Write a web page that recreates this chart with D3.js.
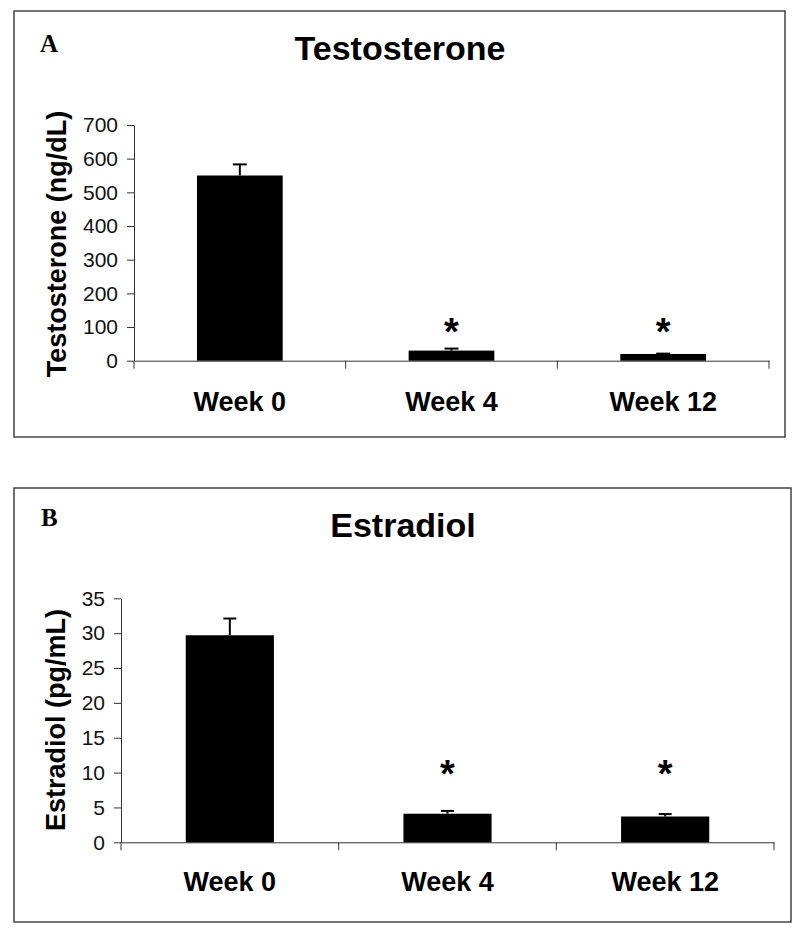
<!DOCTYPE html>
<html>
<head>
<meta charset="utf-8">
<script src="https://cdn.jsdelivr.net/npm/d3@7"></script>
<style>
  body { margin: 0; background: #fff; }
  svg { display: block; }
  text { font-family: "Liberation Sans", Arial, sans-serif; }
</style>
</head>
<body>
<svg id="chart" width="800" height="933"></svg>
<script>
// ---- data ----
const categories = ["Week 0", "Week 4", "Week 12"];

const testosteroneMeans = [550, 30, 20];
const testosteroneErrors = [33, 6, 1];
const testosteroneTicks = [0, 100, 200, 300, 400, 500, 600, 700];
const testosteroneSignificant = [false, true, true];
const testosteroneStarLevel = 110;

const estradiolMeans = [29.7, 4.1, 3.7];
const estradiolErrors = [2.4, 0.4, 0.35];
const estradiolTicks = [0, 5, 10, 15, 20, 25, 30, 35];
const estradiolSignificant = [false, true, true];
const estradiolStarLevel = 11;

// ---- drawing ----
const svg = d3.select("#chart");

function drawPanel(cfg) {
  const g = svg.append("g");
  // frame
  g.append("rect")
    .attr("x", cfg.frame[0]).attr("y", cfg.frame[1])
    .attr("width", cfg.frame[2]).attr("height", cfg.frame[3])
    .attr("fill", "none").attr("stroke", "#444").attr("stroke-width", 1.5);

  // panel letter
  g.append("text")
    .attr("x", cfg.letterPos[0]).attr("y", cfg.letterPos[1])
    .style("font-family", "'Liberation Serif', 'Times New Roman', serif")
    .style("font-weight", "bold").style("font-size", "25px")
    .text(cfg.letter);

  // title
  g.append("text")
    .attr("x", cfg.titlePos[0]).attr("y", cfg.titlePos[1])
    .attr("text-anchor", "middle")
    .style("font-weight", "bold").style("font-size", "34px")
    .text(cfg.title);

  const x = d3.scaleBand().domain(categories).range([cfg.x0, cfg.x1]).padding(0);
  const y = d3.scaleLinear().domain([0, d3.max(cfg.ticks)]).range([cfg.yBottom, cfg.yTop]);
  const barW = x.bandwidth() * 0.405;

  // y axis
  const yAxis = g.append("g")
    .attr("transform", `translate(${cfg.x0},0)`)
    .call(d3.axisLeft(y).tickValues(cfg.ticks).tickSize(7).tickPadding(9).tickSizeOuter(0));
  yAxis.selectAll("text").style("font-size", "21px").attr("fill", "#111")
    .style("font-family", "'Liberation Sans', Arial, sans-serif");
  yAxis.selectAll("line").attr("stroke", "#333");
  yAxis.select(".domain").attr("stroke", "#333");

  // x axis
  const xAxis = g.append("g")
    .attr("transform", `translate(0,${cfg.yBottom})`)
    .call(d3.axisBottom(x).tickSize(0).tickPadding(0).tickSizeOuter(0));
  xAxis.select(".domain").attr("stroke", "#333");
  xAxis.selectAll("text")
    .attr("dy", null).attr("y", cfg.xLabelOffset)
    .style("font-size", "27px").style("font-weight", "bold").attr("fill", "#000")
    .style("font-family", "'Liberation Sans', Arial, sans-serif");
  // boundary ticks (Excel style, between categories)
  const bounds = categories.map(c => x(c)).concat([x(categories[categories.length - 1]) + x.bandwidth()]);
  g.selectAll(".xtick").data(bounds).enter().append("line")
    .attr("x1", d => d).attr("x2", d => d)
    .attr("y1", cfg.yBottom).attr("y2", cfg.yBottom + 8)
    .attr("stroke", "#333").attr("stroke-width", 1);

  const data = categories.map((c, i) => ({ c, v: cfg.means[i], e: cfg.errors[i], s: cfg.sig[i] }));

  // error bars (upper only)
  const eb = g.selectAll(".eb").data(data).enter().append("g");
  eb.append("line")
    .attr("x1", d => x(d.c) + x.bandwidth() / 2).attr("x2", d => x(d.c) + x.bandwidth() / 2)
    .attr("y1", d => y(d.v)).attr("y2", d => y(d.v + d.e))
    .attr("stroke", "#000").attr("stroke-width", 2);
  eb.append("line")
    .attr("x1", d => x(d.c) + x.bandwidth() / 2 - cfg.capHalf)
    .attr("x2", d => x(d.c) + x.bandwidth() / 2 + cfg.capHalf)
    .attr("y1", d => y(d.v + d.e)).attr("y2", d => y(d.v + d.e))
    .attr("stroke", "#000").attr("stroke-width", 2);

  // bars
  g.selectAll(".bar").data(data).enter().append("rect")
    .attr("x", d => x(d.c) + (x.bandwidth() - barW) / 2)
    .attr("y", d => y(d.v))
    .attr("width", barW)
    .attr("height", d => y(0) - y(d.v))
    .attr("fill", "#000");

  // significance stars
  g.selectAll(".star").data(data.filter(d => d.s)).enter().append("text")
    .attr("x", d => x(d.c) + x.bandwidth() / 2)
    .attr("y", y(cfg.starLevel) + 21)
    .attr("text-anchor", "middle")
    .style("font-weight", "bold").style("font-size", "38px")
    .text("*");

  // y label
  g.append("text")
    .attr("transform", `translate(${cfg.yLabelPos[0]},${cfg.yLabelPos[1]}) rotate(-90)`)
    .attr("text-anchor", "middle")
    .style("font-weight", "bold").style("font-size", "27px")
    .text(cfg.yLabel);
}

drawPanel({
  frame: [14, 11, 771, 426],
  letter: "A", letterPos: [40, 52],
  title: "Testosterone", titlePos: [400, 60],
  x0: 134, x1: 769, yTop: 125, yBottom: 360.7,
  ticks: testosteroneTicks,
  means: testosteroneMeans, errors: testosteroneErrors, sig: testosteroneSignificant,
  starLevel: testosteroneStarLevel,
  capHalf: 7,
  xLabelOffset: 50,
  yLabel: "Testosterone (ng/dL)", yLabelPos: [66, 244]
});

drawPanel({
  frame: [14, 488, 777, 434],
  letter: "B", letterPos: [41, 526],
  title: "Estradiol", titlePos: [403, 536.5],
  x0: 121, x1: 774, yTop: 598.3, yBottom: 842.3,
  ticks: estradiolTicks,
  means: estradiolMeans, errors: estradiolErrors, sig: estradiolSignificant,
  starLevel: estradiolStarLevel,
  capHalf: 6.5,
  xLabelOffset: 49,
  yLabel: "Estradiol (pg/mL)", yLabelPos: [64.5, 720]
});
</script>
</body>
</html>
